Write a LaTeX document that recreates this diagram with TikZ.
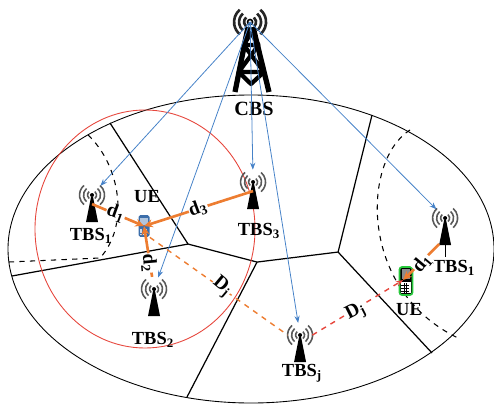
\documentclass[tikz,border=0pt]{standalone}
\usepackage{fontspec}
\setmainfont{Liberation Serif}
\usetikzlibrary{calc,arrows.meta}

\definecolor{linkorange}{RGB}{237,125,49}
\definecolor{linkblue}{RGB}{70,130,200}
\definecolor{cellred}{RGB}{230,70,60}
\definecolor{phoneblue}{RGB}{60,110,170}
\definecolor{phonegreen}{RGB}{40,200,60}

% small base station: named zone #1 at #2, waves round the top, black mast below
\newcommand{\tbsIcon}[2]{
	\node[tbs zone] (#1) at (#2) {};
	\coordinate (#1-mast) at ($(#1)+(0,-9)$);
	\coordinate (#1-foot) at ($(#1)+(-6,-26)$);
	\foreach \r in {4.5,8.5,12.5} {
		\draw[black!65, line width=0.9pt] ($(#1)+(130:\r)$) arc [start angle=130, end angle=230, radius=\r];
		\draw[black!65, line width=0.9pt] ($(#1)+(-50:\r)$) arc [start angle=-50, end angle=50, radius=\r];
	}
	\fill ($(#1)+(-1,-2)$) -- ($(#1)+(1,-2)$) -- ($(#1)+(6,-27)$) -- ($(#1)+(-6,-27)$) -- cycle;
	\fill (#1) circle (2);
}

\begin{document}
\begin{tikzpicture}[scale = 0.02,
	lbl/.style={font=\bfseries\fontsize{10.5}{12}\selectfont, inner sep=0.5pt},
	onlink/.style={font=\bfseries\fontsize{11}{12}\selectfont, inner sep=0.3pt, fill=white},
	cbs link/.style={linkblue, line width=0.45pt, -{Stealth[length=4pt,width=3pt]}},
	dist/.style={linkorange, line width=1.5pt, -{Stealth[length=5pt,width=4.5pt]}},
	tbs zone/.style={circle, minimum size=0.48cm, inner sep=0pt},
]
	\useasboundingbox (0,0) rectangle (494,-406);

	\coordinate (cellA) at (110,-123);
	\coordinate (cellB) at (188,-244);
	\coordinate (cellC) at (257,-262);
	\coordinate (cellD) at (338,-252);

%draw coverage area and cells
	\draw[line width=0.5pt] (251,-249) ellipse [x radius=243, y radius=154];
	\draw[line width=0.7pt] (cellA) -- (cellB) -- (cellC) -- (cellD) -- (372,-115);
	\draw[line width=0.7pt] (cellB) -- (12,-276);
	\draw[line width=0.7pt] (cellC) -- (187,-397);
	\draw[line width=0.7pt] (cellD) -- (432,-353);

	\draw[dashed, line width=0.6pt] (88,-135) .. controls (120,-165) and (130,-225) .. (100,-258) -- (9,-262);
	\draw[dashed, line width=0.6pt] (410,-130) .. controls (362,-160) and (358,-290) .. (458,-338);

	\draw[cellred, line width=0.5pt] (145,-229) ellipse [x radius=110, y radius=119];

%draw central base station
	\coordinate (cbsTop) at (250,-22);
	\foreach \r in {6,11,16} {
		\draw[black!85, line width=1.5pt] ($(cbsTop)+(130:\r)$) arc [start angle=130, end angle=230, radius=\r];
		\draw[black!85, line width=1.5pt] ($(cbsTop)+(-50:\r)$) arc [start angle=-50, end angle=50, radius=\r];
	}
	\draw[line width=0.9pt] (cbsTop) circle (2.5);
	\draw[line width=3pt] (248,-27) -- (235,-92);
	\draw[line width=3pt] (253,-27) -- (269,-92);
	\draw[line width=2.4pt, line join=round] (243.7,-45) -- (251,-33) -- (258.6,-45) -- cycle;
	\draw[line width=2.4pt, line join=round] (243.7,-45) -- (264,-72) -- (238.7,-72) -- (258.6,-45);
	\draw[line width=2.4pt, line join=round] (238.7,-72) -- (251,-84) -- (264,-72);
	\node[lbl, font=\bfseries\fontsize{11.5}{13}\selectfont] (cbs) at (254,-109) {CBS};

%draw small base stations
	\tbsIcon{tbsA}{92,-195}
	\tbsIcon{tbsB}{154,-289}
	\tbsIcon{tbsC}{253,-182}
	\tbsIcon{tbsJ}{300,-335}
	\tbsIcon{tbsR}{445,-218}
	\draw[line width=0.5pt] ($(tbsR)+(0,-26)$) -- ($(tbsR)+(0,-39)$);

	\foreach \t in {tbsA,tbsB,tbsC,tbsJ,tbsR}
		\draw[cbs link] (cbsTop) -- (\t);

%draw user equipment
	\node[fill=phoneblue, rounded corners=1pt, minimum width=0.22cm, minimum height=0.44cm, inner sep=0pt] (ueA) at (144,-226) {};
	\fill[phoneblue!40!white] ($(ueA.north west)+(2,-3)$) rectangle ($(ueA.east)+(-2,1)$);
	\foreach \i in {0,1,2}
		\foreach \j in {0,1,2}
			\fill[white!75!phoneblue] ($(ueA.south west)+(2.2+2.4*\i,2+2.3*\j)$) rectangle +(1.8,1.7);

	\node[fill=black, draw=phonegreen, line width=1pt, rounded corners=1.5pt, minimum width=0.26cm, minimum height=0.56cm, inner sep=0pt] (ueB) at (406,-281) {};
	\fill[black!45] ($(ueB.north west)+(3,-3)$) rectangle ($(ueB.east)+(-3,2)$);
	\fill[white] ($(ueB.south west)+(2.5,2.5)$) rectangle ($(ueB.east)+(-2.5,-1)$);
	\foreach \i in {1,2}
		\draw[line width=0.3pt] ($(ueB.south west)+(2.5+2.67*\i,2.5)$) -- ++(0,10.5);
	\foreach \j in {1,2,3}
		\draw[line width=0.3pt] ($(ueB.south west)+(2.5,2.5+2.63*\j)$) -- ++(8,0);
	\coordinate (ueBhit) at (403,-280);

%distances to the user equipment
	\draw[dist] (tbsA-mast) -- (ueA.center);
	\draw[dist] (tbsC-mast) -- (ueA.center);
	\draw[dist] (tbsB) -- (ueA.center);
	\draw[dist] (tbsR-foot) -- (ueBhit);
	\draw[linkorange, dashed, line width=0.8pt] (ueA.south east) -- (tbsJ.west);
	\draw[cellred, dashed, line width=0.8pt, -{Stealth[length=4pt,width=3pt]}] (tbsJ.east) -- (ueBhit);

%labels
	\node[lbl] (ueAlbl) at (147,-197) {UE};
	\node[lbl] (ueBlbl) at (409,-310) {UE};
	\node[lbl] (tbsAlbl) at (91,-236) {TBS\textsubscript{1}};
	\node[lbl] (tbsBlbl) at (153,-340) {TBS\textsubscript{2}};
	\node[lbl] (tbsClbl) at (259,-231) {TBS\textsubscript{3}};
	\node[lbl] (tbsJlbl) at (302,-373) {TBS\textsubscript{j}};
	\node[lbl] (tbsRlbl) at (454,-268) {TBS\textsubscript{1}};
	\node[onlink, rotate=-20] (dA) at (116,-213) {d\textsubscript{1}};
	\node[onlink, rotate=20] (dC) at (198,-208) {d\textsubscript{3}};
	\node[onlink, rotate=-85] (dB) at (149,-263) {d\textsubscript{2}};
	\node[onlink, rotate=50] (dR) at (422,-263) {d\textsubscript{1}};
	\node[onlink, rotate=-40] (DA) at (222,-287) {D\textsubscript{j}};
	\node[onlink, rotate=27] (DR) at (356,-312) {D\textsubscript{j}};
\end{tikzpicture}
\end{document}
